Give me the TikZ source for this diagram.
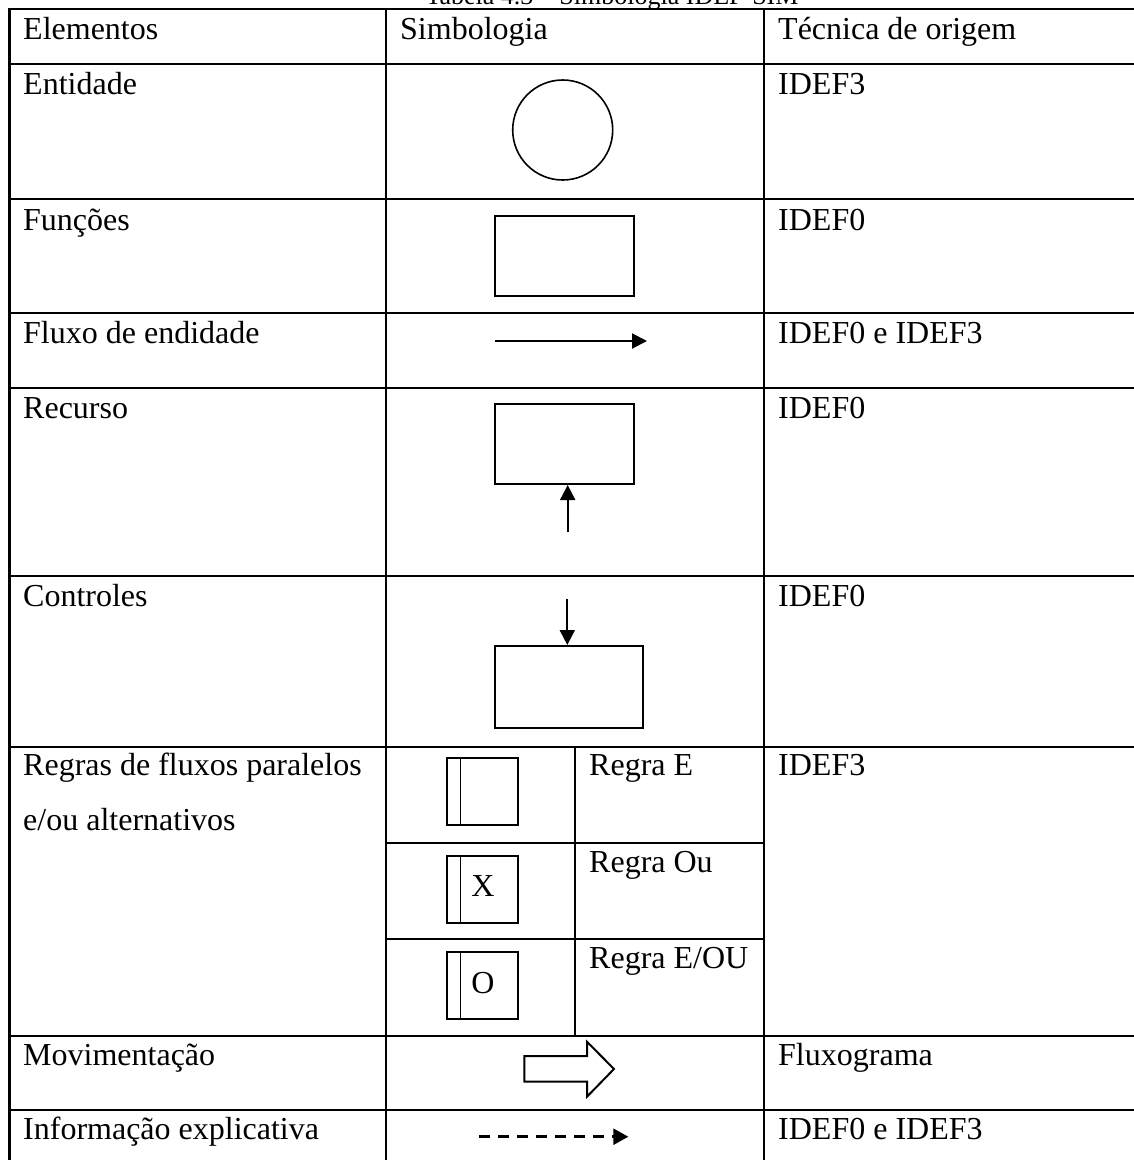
\documentclass[tikz,border=0pt]{standalone}
\usepackage{fontspec}
\setmainfont{Liberation Serif}
\usetikzlibrary{arrows.meta}

\tikzset{
  grid/.style={line width=2.5pt, line cap=rect},
  celltext/.style={anchor=base west, inner sep=0pt, font=\fontsize{32}{38}\selectfont},
  symline/.style={line width=2pt},
  symbox/.style={draw, line width=2pt, rectangle, inner sep=0pt},
  flowarrow/.style={line width=2pt, -{Triangle[length=15pt, width=15pt]}},
}

\begin{document}
\begin{tikzpicture}[x=1pt, y=-1pt]
  \useasboundingbox (0,0) rectangle (1134,1160);
  \clip (0,0) rectangle (1134,1160);

  % caption above the table
  \node[anchor=base, inner sep=0pt, font=\fontsize{26}{30}\selectfont] (caption) at (612,4)
    {Tabela 4.3 – Simbologia IDEF-SIM};

  % table rules
  \foreach \y in {9,64,199,313,388,576,747,1036,1110}
    \draw[grid] (9,\y) -- (1140,\y);
  \draw[grid] (386,843) -- (764,843);
  \draw[grid] (386,939) -- (764,939);
  \draw[grid, line width=3pt] (9,9) -- (9,1170);
  \draw[grid] (386,9) -- (386,1170);
  \draw[grid] (764,9) -- (764,1170);
  \draw[grid] (575,747) -- (575,1036);
  \draw[grid] (1137,9) -- (1137,1170);

  % header row
  \node[celltext] (hElem) at (23,39) {Elementos};
  \node[celltext] (hSimb) at (400,39) {Simbologia};
  \node[celltext] (hTec)  at (778,39) {Técnica de origem};

  % first column
  \node[celltext] (eEnt)  at (23,94)   {Entidade};
  \node[celltext] (eFun)  at (23,230)  {Funções};
  \node[celltext] (eFlu)  at (23,343)  {Fluxo de endidade};
  \node[celltext] (eRec)  at (23,418)  {Recurso};
  \node[celltext] (eCon)  at (23,606)  {Controles};
  \node[celltext] (eReg1) at (23,775)  {Regras de fluxos paralelos};
  \node[celltext] (eReg2) at (23,830)  {e/ou alternativos};
  \node[celltext] (eMov)  at (23,1065) {Movimentação};
  \node[celltext] (eInf)  at (23,1139) {Informação explicativa};

  % third column
  \node[celltext] (tEnt) at (778,94)   {IDEF3};
  \node[celltext] (tFun) at (778,230)  {IDEF0};
  \node[celltext] (tFlu) at (778,343)  {IDEF0 e IDEF3};
  \node[celltext] (tRec) at (778,418)  {IDEF0};
  \node[celltext] (tCon) at (778,606)  {IDEF0};
  \node[celltext] (tReg) at (778,775)  {IDEF3};
  \node[celltext] (tMov) at (778,1065) {Fluxograma};
  \node[celltext] (tInf) at (778,1139) {IDEF0 e IDEF3};

  % rule labels
  \node[celltext] (rE)   at (589,775) {Regra E};
  \node[celltext] (rOu)  at (589,872) {Regra Ou};
  \node[celltext] (rEOu) at (589,968) {Regra E/OU};

  % entity
  \node[draw, circle, line width=1.6pt, minimum size=100pt, inner sep=0pt] (ent) at (562.7,130) {};

  % function
  \node[symbox, minimum width=139pt, minimum height=80pt] (fun) at (564.5,256) {};

  % entity flow
  \coordinate (fluA) at (495,341);
  \coordinate (fluB) at (647,341);
  \draw[flowarrow] (fluA) -- (fluB);

  % resource
  \node[symbox, minimum width=139pt, minimum height=80pt] (rec) at (564.5,444) {};
  \coordinate (recTail) at (567.7,532);
  \draw[flowarrow] (recTail) -- (recTail |- rec.south);

  % control
  \node[symbox, minimum width=148pt, minimum height=82pt] (ctl) at (569,687) {};
  \coordinate (ctlTail) at (567.3,599);
  \draw[flowarrow] (ctlTail) -- (ctlTail |- ctl.north);

  % junction boxes
  \node[symbox, minimum width=71pt, minimum height=66.7pt] (jE) at (482.5,791.7) {};
  \draw[line width=1.2pt] ([xshift=14.5pt]jE.north west) -- ([xshift=14.5pt]jE.south west);
  \node[symbox, minimum width=71pt, minimum height=66.7pt] (jOu) at (482.5,889.7) {};
  \draw[line width=1.2pt] ([xshift=14.5pt]jOu.north west) -- ([xshift=14.5pt]jOu.south west);
  \node[anchor=base, inner sep=0pt, font=\fontsize{32}{38}\selectfont] (jOuX) at (483,896.7) {X};
  \node[symbox, minimum width=71pt, minimum height=66.7pt] (jEOu) at (482.5,985.4) {};
  \draw[line width=1.2pt] ([xshift=14.5pt]jEOu.north west) -- ([xshift=14.5pt]jEOu.south west);
  \node[anchor=base, inner sep=0pt, font=\fontsize{32}{38}\selectfont] (jEOuO) at (483,993) {O};

  % movement (block arrow)
  \draw[line width=2pt, line join=miter]
    (524.3,1056) -- (587,1056) -- (587,1041.7) -- (614,1069) -- (587,1096.7)
    -- (587,1081.7) -- (524.3,1081.7) -- cycle;

  % explanatory information
  \coordinate (infA) at (479,1136.7);
  \coordinate (infB) at (628.3,1136.7);
  \draw[line width=2.5pt, dash pattern=on 11pt off 8pt, -{Triangle[length=15pt, width=16pt]}] (infA) -- (infB);
\end{tikzpicture}
\end{document}
